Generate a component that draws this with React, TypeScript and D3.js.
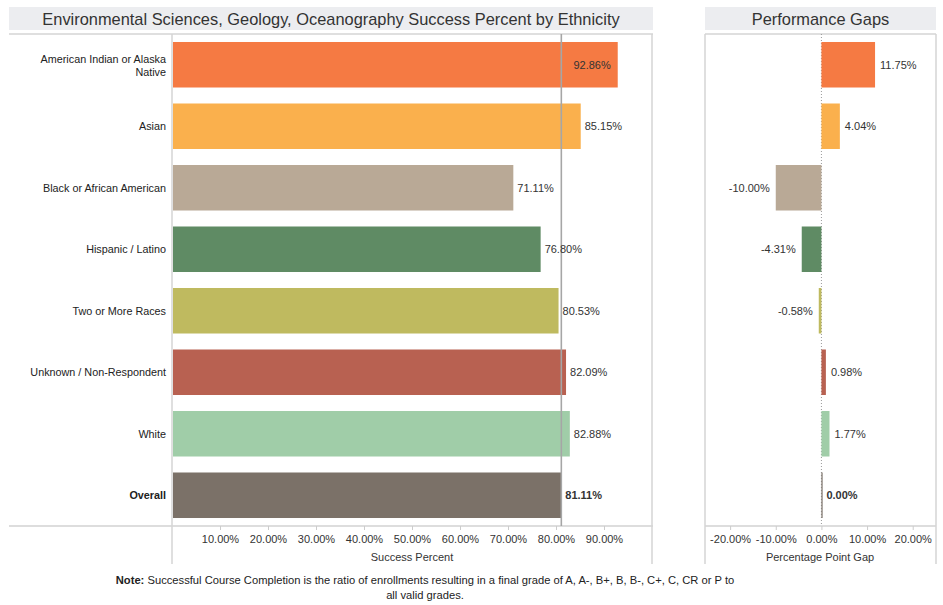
import * as d3 from 'd3';
import { useEffect, useRef } from 'react';

const categories = [
  'American Indian or Alaska Native',
  'Asian',
  'Black or African American',
  'Hispanic / Latino',
  'Two or More Races',
  'Unknown / Non-Respondent',
  'White',
  'Overall',
];
const successPct = [92.86, 85.15, 71.11, 76.80, 80.53, 82.09, 82.88, 81.11];
const gapPct = [11.75, 4.04, -10.0, -4.31, -0.58, 0.98, 1.77, 0.0];
const colors = ['#F57A43', '#FAB04D', '#B9A996', '#5F8B64', '#BFBA5F', '#B86151', '#A0CDA8', '#7B7168'];
const successTicks = [10, 20, 30, 40, 50, 60, 70, 80, 90];
const gapTicks = [-20, -10, 0, 10, 20];
const overallPct = 81.11;

const FONT = 'Arial, "Liberation Sans", sans-serif';

export default function App() {
  const ref = useRef<SVGSVGElement>(null);

  useEffect(() => {
    const svg = d3.select(ref.current);
    svg.selectAll('*').remove();
    const rows = categories.map((c, i) => ({ c, v: successPct[i], g: gapPct[i], col: colors[i], bold: c === 'Overall' }));

    const top = 34, bottom = 526;
    const y = d3.scaleBand<string>().domain(categories).range([top, bottom]).paddingInner(0.26).paddingOuter(0.13);

    // ---------- left panel ----------
    const x = d3.scaleLinear().domain([0, 100]).range([172, 652]);

    svg.append('rect').attr('x', 9).attr('y', 7).attr('width', 644).attr('height', 23).attr('fill', '#ECEDF0');
    svg.append('text').attr('x', 331).attr('y', 24.5).attr('text-anchor', 'middle')
      .attr('font-size', 16.4).attr('fill', '#333').text('Environmental Sciences, Geology, Oceanography Success Percent by Ethnicity');

    svg.append('line').attr('x1', 9).attr('x2', 653).attr('y1', top).attr('y2', top).attr('stroke', '#d4d4d4').attr('stroke-width', 1.5);
    svg.append('line').attr('x1', 9).attr('x2', 653).attr('y1', bottom).attr('y2', bottom).attr('stroke', '#bbb');
    [172, 652].forEach(px => {
      svg.append('line').attr('x1', px).attr('x2', px).attr('y1', top).attr('y2', 564).attr('stroke', '#d4d4d4').attr('stroke-width', 1.5);
    });

    svg.selectAll('.bar').data(rows).enter().append('rect')
      .attr('x', x(0) + 1).attr('y', d => y(d.c)!)
      .attr('width', d => x(d.v) - x(0) - 1).attr('height', y.bandwidth())
      .attr('fill', d => d.col);

    svg.append('line').attr('x1', x(overallPct)).attr('x2', x(overallPct)).attr('y1', top).attr('y2', bottom)
      .attr('stroke', '#a6a6a6').attr('stroke-width', 1.6);

    svg.selectAll('.val').data(rows).enter().append('text')
      .attr('x', d => (x(d.v) + 40 > 652 ? x(d.v) - 7 : x(d.v) + 4))
      .attr('text-anchor', d => (x(d.v) + 40 > 652 ? 'end' : 'start'))
      .attr('y', d => y(d.c)! + y.bandwidth() / 2 + 4)
      .attr('font-size', 11).attr('fill', '#333').attr('font-weight', d => (d.bold ? 'bold' : 'normal'))
      .text(d => d.v.toFixed(2) + '%');

    const lab = svg.selectAll('.lab').data(rows).enter().append('text')
      .attr('text-anchor', 'end').attr('font-size', 10.8).attr('fill', '#222')
      .attr('font-weight', d => (d.bold ? 'bold' : 'normal'));
    lab.each(function (d) {
      const t = d3.select(this);
      const cy = y(d.c)! + y.bandwidth() / 2;
      if (d.c.startsWith('American Indian')) {
        t.append('tspan').attr('x', 166).attr('y', cy - 2).text('American Indian or Alaska');
        t.append('tspan').attr('x', 166).attr('y', cy + 11).text('Native');
      } else {
        t.append('tspan').attr('x', 166).attr('y', cy + 4).text(d.c);
      }
    });

    const xAxis = svg.append('g').attr('transform', `translate(0,${bottom})`)
      .call(d3.axisBottom(x).tickValues(successTicks).tickSize(4).tickFormat(d => (+d).toFixed(2) + '%'));
    xAxis.select('.domain').remove();
    xAxis.selectAll('line').attr('stroke', '#ccc');
    xAxis.selectAll('text').attr('font-size', 11).attr('font-family', FONT).attr('fill', '#333').attr('dy', '0.9em');
    svg.append('text').attr('x', 412).attr('y', 561).attr('text-anchor', 'middle').attr('font-size', 11).attr('fill', '#333').text('Success Percent');

    // ---------- right panel ----------
    const gx = d3.scaleLinear().domain([-25.5, 25.1]).range([705, 936]);
    svg.append('rect').attr('x', 705).attr('y', 7).attr('width', 231).attr('height', 23).attr('fill', '#ECEDF0');
    svg.append('text').attr('x', 820.5).attr('y', 24.5).attr('text-anchor', 'middle')
      .attr('font-size', 16.4).attr('fill', '#333').text('Performance Gaps');
    svg.append('line').attr('x1', 705).attr('x2', 936).attr('y1', top).attr('y2', top).attr('stroke', '#d4d4d4').attr('stroke-width', 1.5);
    svg.append('line').attr('x1', 705).attr('x2', 936).attr('y1', bottom).attr('y2', bottom).attr('stroke', '#bbb');
    [705, 936].forEach(px => {
      svg.append('line').attr('x1', px).attr('x2', px).attr('y1', top).attr('y2', 564).attr('stroke', '#d4d4d4').attr('stroke-width', 1.5);
    });
    svg.append('line').attr('x1', gx(0)).attr('x2', gx(0)).attr('y1', top).attr('y2', bottom)
      .attr('stroke', '#999').attr('stroke-dasharray', '1,2');

    svg.selectAll('.gbar').data(rows).enter().append('rect')
      .attr('x', d => Math.min(gx(0), gx(d.g)))
      .attr('y', d => y(d.c)!)
      .attr('width', d => Math.max(1.2, Math.abs(gx(d.g) - gx(0))))
      .attr('height', y.bandwidth()).attr('fill', d => d.col);

    svg.selectAll('.gval').data(rows).enter().append('text')
      .attr('x', d => (d.g < 0 ? gx(d.g) - 6 : gx(d.g) + 5))
      .attr('text-anchor', d => (d.g < 0 ? 'end' : 'start'))
      .attr('y', d => y(d.c)! + y.bandwidth() / 2 + 4)
      .attr('font-size', 11).attr('fill', '#333').attr('font-weight', d => (d.bold ? 'bold' : 'normal'))
      .text(d => d.g.toFixed(2) + '%');

    const gAxis = svg.append('g').attr('transform', `translate(0,${bottom})`)
      .call(d3.axisBottom(gx).tickValues(gapTicks).tickSize(4).tickFormat(d => (+d).toFixed(2) + '%'));
    gAxis.select('.domain').remove();
    gAxis.selectAll('line').attr('stroke', '#ccc');
    gAxis.selectAll('text').attr('font-size', 11).attr('font-family', FONT).attr('fill', '#333').attr('dy', '0.9em');
    svg.append('text').attr('x', 820).attr('y', 561).attr('text-anchor', 'middle').attr('font-size', 11).attr('fill', '#333').text('Percentage Point Gap');

    // ---------- note ----------
    const note = svg.append('text').attr('x', 425).attr('y', 584).attr('text-anchor', 'middle').attr('font-size', 11.2).attr('fill', '#222');
    note.append('tspan').attr('font-weight', 'bold').text('Note:');
    note.append('tspan').text(' Successful Course Completion is the ratio of enrollments resulting in a final grade of A, A-, B+, B, B-, C+, C, CR or P to');
    svg.append('text').attr('x', 425).attr('y', 599).attr('text-anchor', 'middle').attr('font-size', 11.2).attr('fill', '#222').text('all valid grades.');
  }, []);

  return (
    <svg ref={ref} width={943} height={605} fontFamily={FONT}
      style={{ position: 'absolute', left: 0, top: 0, background: '#fff' }} />
  );
}
